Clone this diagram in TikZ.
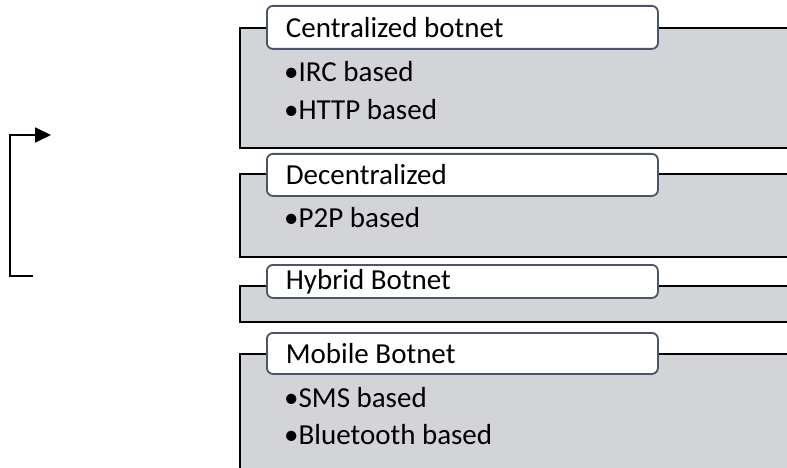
\documentclass[tikz,border=0pt]{standalone}
\usepackage{fontspec}
\setmainfont{Carlito}
\usetikzlibrary{arrows.meta}
\definecolor{panelgray}{HTML}{D3D4D8}
\definecolor{tabline}{HTML}{4A5568}
\newcommand{\tabtext}[1]{\makebox[353pt][l]{#1}}
\begin{document}
\begin{tikzpicture}[x=1pt,y=-1pt,
  panel/.style={draw=black,line width=1.8pt,fill=panelgray,anchor=north west,inner sep=0pt},
  tab/.style={draw=tabline,line width=1.8pt,fill=white,rounded corners=6pt,anchor=north west,
    minimum width=391pt,inner xsep=19pt,inner ysep=0pt,
    font=\fontsize{29}{33}\selectfont},
  item/.style={anchor=west,inner sep=0pt,font=\fontsize{29}{33}\selectfont},
  flow/.style={line width=1.8pt,-{Triangle[length=16pt,width=15pt]}}]
\useasboundingbox (0,0) rectangle (787,468);
\clip (0,0) rectangle (787,468);
% grey panels, open on the right (and at the foot for the last one)
\node[panel,minimum width=580pt,minimum height=120pt] (p1) at (239,27) {};
\node[panel,minimum width=580pt,minimum height=83pt]  (p2) at (239,173) {};
\node[panel,minimum width=580pt,minimum height=36pt]  (p3) at (239,285) {};
\node[panel,minimum width=580pt,minimum height=140pt] (p4) at (239,353) {};
% headings
\node[tab,minimum height=43pt] (t1) at (266,5)   {\tabtext{Centralized botnet}};
\node[tab,minimum height=42pt] (t2) at (266,153) {\tabtext{Decentralized}};
\node[tab,minimum height=33pt] (t3) at (266,264) {\tabtext{Hybrid Botnet}};
\node[tab,minimum height=41pt] (t4) at (266,332) {\tabtext{Mobile Botnet}};
% bullet items
\node[item] (i1) at (284,72)  {•IRC based};
\node[item] (i2) at (284,110) {•HTTP based};
\node[item] (i3) at (284,218) {•P2P based};
\node[item] (i4) at (284,398) {•SMS based};
\node[item] (i5) at (284,435) {•Bluetooth based};
% loop-back bracket
\coordinate (lb) at (33,276);
\coordinate (lt) at (51,135);
\draw[flow] (lb) -- (10,276) -- (10,135) -- (lt);
\end{tikzpicture}
\end{document}
